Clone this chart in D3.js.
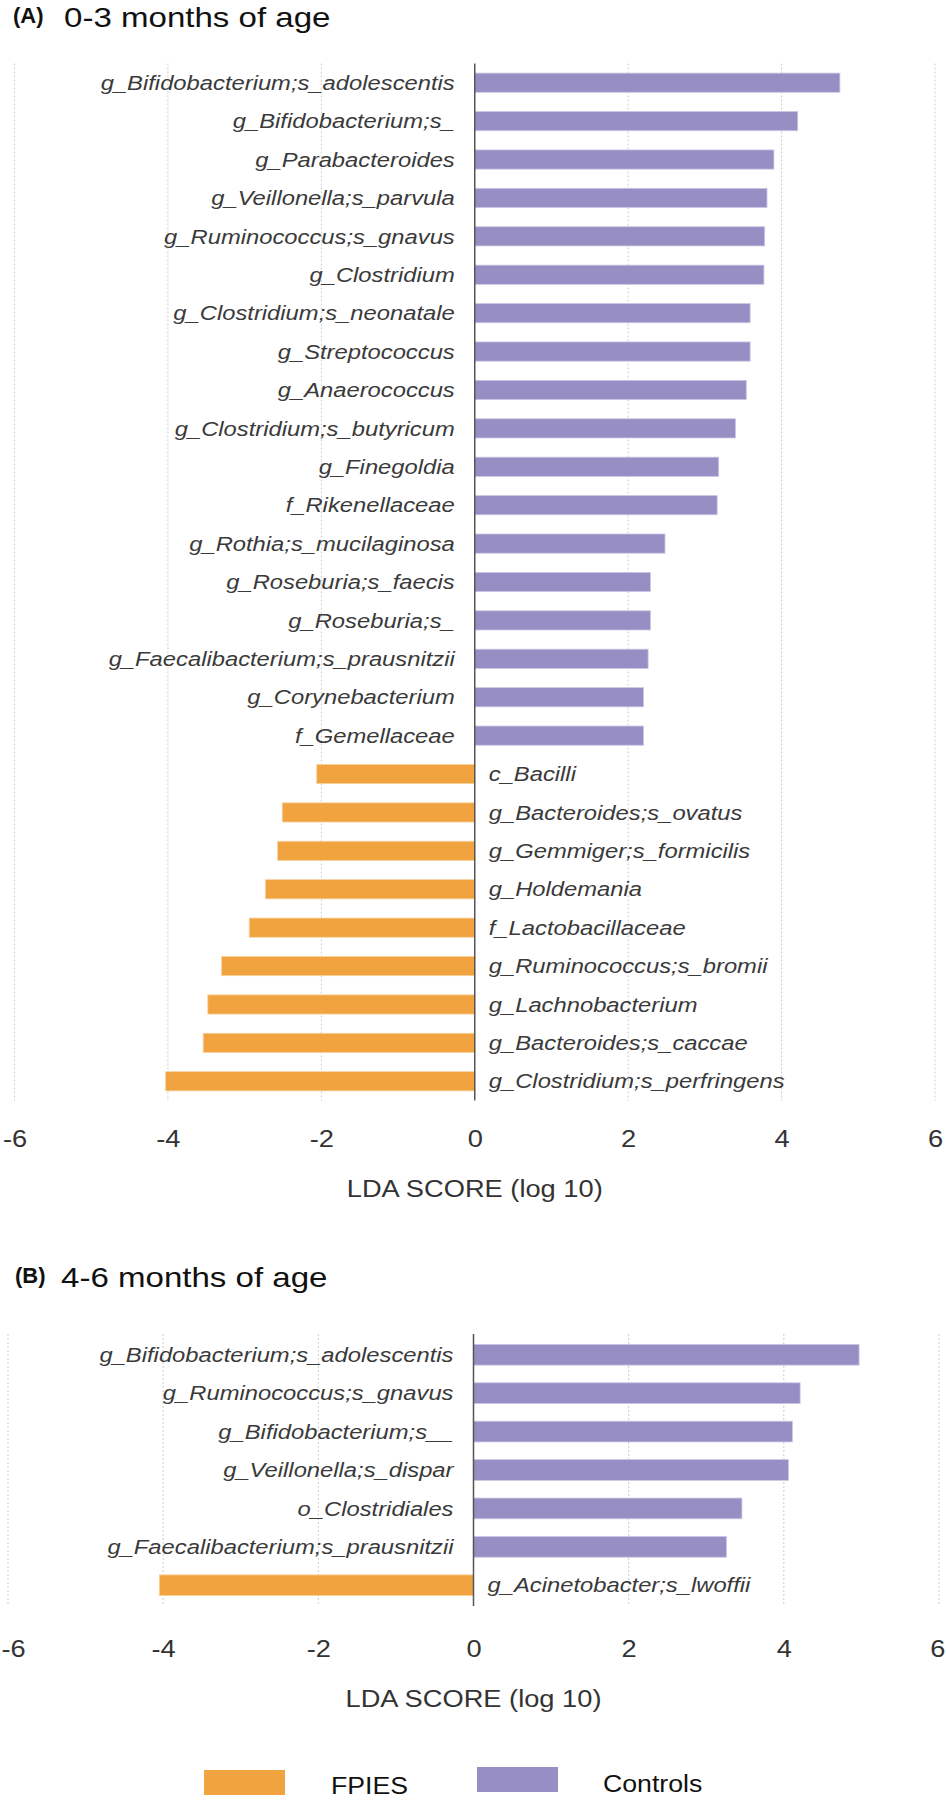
<!DOCTYPE html>
<html>
<head>
<meta charset="utf-8">
<script src="https://cdn.jsdelivr.net/npm/d3@7"></script>
<style>
  html, body { margin: 0; padding: 0; background: #fff; }
  svg { display: block; }
  text { font-family: "Liberation Sans", Arial, Helvetica, sans-serif; }
</style>
</head>
<body>
<svg id="chart" width="946" height="1800"></svg>
<script>
// ---- Data ----
const catsA = [
  "g_Bifidobacterium;s_adolescentis", "g_Bifidobacterium;s_", "g_Parabacteroides",
  "g_Veillonella;s_parvula", "g_Ruminococcus;s_gnavus", "g_Clostridium",
  "g_Clostridium;s_neonatale", "g_Streptococcus", "g_Anaerococcus",
  "g_Clostridium;s_butyricum", "g_Finegoldia", "f_Rikenellaceae",
  "g_Rothia;s_mucilaginosa", "g_Roseburia;s_faecis", "g_Roseburia;s_",
  "g_Faecalibacterium;s_prausnitzii", "g_Corynebacterium", "f_Gemellaceae",
  "c_Bacilli", "g_Bacteroides;s_ovatus", "g_Gemmiger;s_formicilis",
  "g_Holdemania", "f_Lactobacillaceae", "g_Ruminococcus;s_bromii",
  "g_Lachnobacterium", "g_Bacteroides;s_caccae", "g_Clostridium;s_perfringens"
];
const valsA = [
  4.76, 4.21, 3.90, 3.81, 3.78, 3.77, 3.59, 3.59, 3.54,
  3.40, 3.18, 3.16, 2.48, 2.29, 2.29, 2.26, 2.20, 2.20,
  -2.06, -2.51, -2.57, -2.73, -2.94, -3.30, -3.48, -3.54, -4.03
];
const catsB = [
  "g_Bifidobacterium;s_adolescentis", "g_Ruminococcus;s_gnavus", "g_Bifidobacterium;s__",
  "g_Veillonella;s_dispar", "o_Clostridiales", "g_Faecalibacterium;s_prausnitzii",
  "g_Acinetobacter;s_lwoffii"
];
const valsB = [4.97, 4.21, 4.11, 4.06, 3.46, 3.26, -4.05];
const xTicks = [-6, -4, -2, 0, 2, 4, 6];
const groups = ["FPIES", "Controls"];
const groupColors = ["#f0a33f", "#978fc4"];
const titles = [["(A)", "0-3 months of age"], ["(B)", "4-6 months of age"]];
const axisTitle = "LDA SCORE (log 10)";

// ---- Drawing ----
const svg = d3.select("#chart");
svg.append("rect").attr("width", 946).attr("height", 1800).attr("fill", "#fff");
const color = d3.scaleOrdinal().domain(groups).range(groupColors);
const SX = 1.16; // horizontal text stretch of the original figure

function panel(cfg) {
  const g = svg.append("g");
  const data = cfg.cats.map((c, i) => ({ c, v: cfg.vals[i] }));
  const x = d3.scaleLinear().domain([-6, 6]).range(cfg.xr);
  const y = d3.scaleBand().domain(cfg.cats).range(cfg.yr)
    .paddingInner(cfg.pi).paddingOuter(cfg.po);

  // title
  g.append("text")
    .attr("transform", `translate(${cfg.tagX},${cfg.titleY - 4})`)
    .attr("font-size", 22).attr("font-weight", "bold").attr("fill", "#111")
    .text(cfg.title[0]);
  g.append("text")
    .attr("transform", `translate(${cfg.titleX},${cfg.titleY}) scale(${SX},1)`)
    .attr("font-size", 28.5).attr("fill", "#111")
    .text(cfg.title[1]);

  // grid
  g.selectAll(".grid").data(xTicks.filter(t => t !== 0)).join("line")
    .attr("x1", d => x(d)).attr("x2", d => x(d))
    .attr("y1", cfg.yr[0]).attr("y2", cfg.yr[1])
    .attr("stroke", "#cdcdcd").attr("stroke-width", 1)
    .attr("stroke-dasharray", "2,2");

  // bars
  g.selectAll(".bar").data(data).join("rect")
    .attr("x", d => x(Math.min(0, d.v)))
    .attr("width", d => Math.abs(x(d.v) - x(0)))
    .attr("y", d => y(d.c))
    .attr("height", y.bandwidth())
    .attr("fill", d => color(d.v < 0 ? "FPIES" : "Controls"))
    .attr("stroke", d => d.v < 0 ? "#f7d3a0" : "#cbc6e6")
    .attr("stroke-width", 0.8);

  // zero line
  g.append("line")
    .attr("x1", x(0)).attr("x2", x(0))
    .attr("y1", cfg.yr[0]).attr("y2", cfg.yr[1])
    .attr("stroke", "#555").attr("stroke-width", 1.5);

  // category labels
  g.selectAll(".lab").data(data).join("text")
    .attr("transform", d => {
      const lx = d.v >= 0 ? x(0) - 20 : x(0) + 14;
      return `translate(${lx},${y(d.c) + y.bandwidth() / 2}) scale(${SX},1)`;
    })
    .attr("dy", "0.35em")
    .attr("text-anchor", d => d.v >= 0 ? "end" : "start")
    .attr("font-size", 20.5).attr("font-style", "italic").attr("fill", "#3a3a3a")
    .text(d => d.c);

  // x axis
  const axis = d3.axisBottom(x).tickValues(xTicks).tickSize(0)
    .tickFormat(d => String(d));
  const ag = g.append("g").attr("transform", `translate(0,${cfg.yr[1]})`).call(axis);
  ag.select(".domain").remove();
  ag.selectAll(".tick text")
    .attr("y", cfg.tickY - cfg.yr[1]).attr("dy", "0")
    .attr("transform", `scale(${SX},1)`)
    .attr("font-size", 23.5).attr("fill", "#333")
    .attr("font-family", "'Liberation Sans', Arial, sans-serif")
    .each(function (d) {
      // keep edge labels inside the page, as the original does
      const half = this.getComputedTextLength() * SX / 2;
      const px = x(d);
      if (px - half < 1) {
        d3.select(this).attr("text-anchor", "start").attr("x", (1 - px) / SX);
      } else if (px + half > 945) {
        d3.select(this).attr("text-anchor", "end").attr("x", (945 - px) / SX);
      }
    });

  g.append("text")
    .attr("transform", `translate(${x(0)},${cfg.axisTitleY}) scale(${SX},1)`)
    .attr("text-anchor", "middle")
    .attr("font-size", 23.5).attr("fill", "#333")
    .text(axisTitle);
}

panel({
  cats: catsA, vals: valsA, xr: [14.5, 935], yr: [63.5, 1100.5], pi: 0.5, po: 0.25,
  title: titles[0], tagX: 13, titleX: 64, titleY: 27, tickY: 1147, axisTitleY: 1197
});
panel({
  cats: catsB, vals: valsB, xr: [8, 939], yr: [1334, 1606], pi: 0.46, po: 0.27,
  title: titles[1], tagX: 15, titleX: 61, titleY: 1287, tickY: 1657, axisTitleY: 1707
});

// legend
const legend = svg.append("g");
const legPos = [{ rx: 204, ry: 1770, tx: 331, ty: 1794 }, { rx: 477, ry: 1767, tx: 603, ty: 1792 }];
groups.forEach((gname, i) => {
  const p = legPos[i];
  legend.append("rect").attr("x", p.rx).attr("y", p.ry).attr("width", 81).attr("height", 25)
    .attr("fill", color(gname));
  legend.append("text")
    .attr("transform", `translate(${p.tx},${p.ty}) scale(${SX},1)`)
    .attr("font-size", 23).attr("fill", "#111").text(gname);
});
</script>
</body>
</html>
